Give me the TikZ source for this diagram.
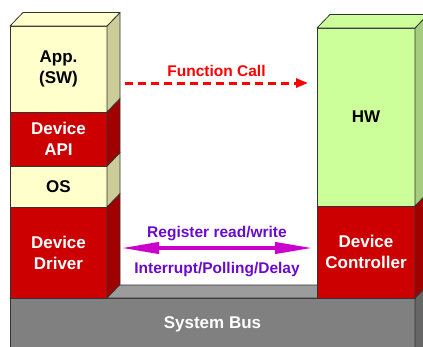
\documentclass[tikz,border=0pt]{standalone}
\usepackage{fontspec}
\setsansfont{Liberation Sans}
\usetikzlibrary{positioning}
\usetikzlibrary{arrows.meta}
\definecolor{creme}{HTML}{FFFFCC}
\definecolor{cremeD}{HTML}{CCCC99}
\definecolor{rot}{HTML}{CC0000}
\definecolor{rotD}{HTML}{A00000}
\definecolor{gruen}{HTML}{CCFF99}
\definecolor{gruenD}{HTML}{A6CC80}
\definecolor{grau}{HTML}{808080}
\definecolor{grauH}{HTML}{9C9C9C}
\definecolor{grauD}{HTML}{666666}
\definecolor{lila}{HTML}{6A0AD0}
\definecolor{pink}{HTML}{CC00CC}
\definecolor{hellrot}{HTML}{FF0000}
\tikzset{
  Kante/.style={draw=black!80, line width=0.8pt, line join=round}, % Umrisse
  Block/.style={Kante, inner sep=0pt, outer sep=0pt, align=center,
    font=\sffamily\bfseries\fontsize{17}{21}\selectfont},
  Links/.style={Block, minimum width=97pt},   % linker Stapel
  Rechts/.style={Block, minimum width=98pt},  % rechter Stapel
  Marke/.style={font=\sffamily\bfseries\fontsize{15.5}{18}\selectfont}
}

\begin{document}
\begin{tikzpicture}[x=1pt, y=-1pt, >=latex]
\clip (0,0) rectangle (423,346);

%Bus
\node[Block, fill=grau, text=white, minimum width=405pt, minimum height=52pt]
  (bus) at (212.5,324) {System Bus};
\draw[Kante, fill=grauH] (bus.north west) -- ++(13,-13) -- ([shift={(13,-13)}]bus.north east) -- (bus.north east) -- cycle;
\draw[Kante, fill=grauD] (bus.north east) -- ++(13,-13) -- ++(0,80) -- (bus.south east) -- cycle;

%linker Stapel (Software)
\node[Links, fill=creme, minimum height=86pt] (app) at (58.5,69) {App.\\(SW)};
\node[Links, fill=rot, text=white, minimum height=54pt, below=0pt of app] (api) {Device\\API};
\node[Links, fill=creme, minimum height=41pt, below=0pt of api] (os) {OS};
\node[Links, fill=rot, text=white, minimum height=91pt, below=0pt of os] (drv) {Device\\Driver};

%rechter Stapel (Hardware)
\node[Rechts, fill=rot, text=white, minimum height=92pt] (ctrl) at (366,252) {Device\\Controller};
\node[Rechts, fill=gruen, minimum height=178pt, above=0pt of ctrl] (hw) {HW};

%Seitenflaechen
\foreach \n/\c in {drv/rotD, os/cremeD, api/rotD, app/cremeD, ctrl/rotD, hw/gruenD}
  \draw[Kante, fill=\c] (\n.north east) -- ++(13,-13.5) -- ([shift={(13,-13.5)}]\n.south east) -- (\n.south east) -- cycle;

%Deckflaechen
\foreach \n/\c in {app/creme, hw/gruen}
  \draw[Kante, fill=\c] (\n.north west) -- ++(13,-13.5) -- ([shift={(13,-13.5)}]\n.north east) -- (\n.north east) -- cycle;

%Function Call
\coordinate (fcA) at ([shift={(18,14)}]app.east);
\draw[hellrot, line width=3pt, dash pattern=on 8pt off 5pt, -{Triangle[length=12pt, width=9pt]}]
  (fcA) -- ([xshift=-9pt]fcA -| hw.west)
  node[midway, above=2pt, Marke, text=hellrot] {Function Call};

%Register / Interrupt
\coordinate (regA) at ([shift={(14,-4.5)}]drv.east);
\draw[pink, line width=4pt, {Triangle[length=38pt, width=11pt]}-{Triangle[length=38pt, width=11pt]}]
  (regA) -- ([xshift=-4pt]regA -| ctrl.west)
  node[midway, above=2pt, Marke, text=lila] {Register read/write}
  node[midway, below=9pt, Marke, text=lila] {Interrupt/Polling/Delay};
\end{tikzpicture}
\end{document}
